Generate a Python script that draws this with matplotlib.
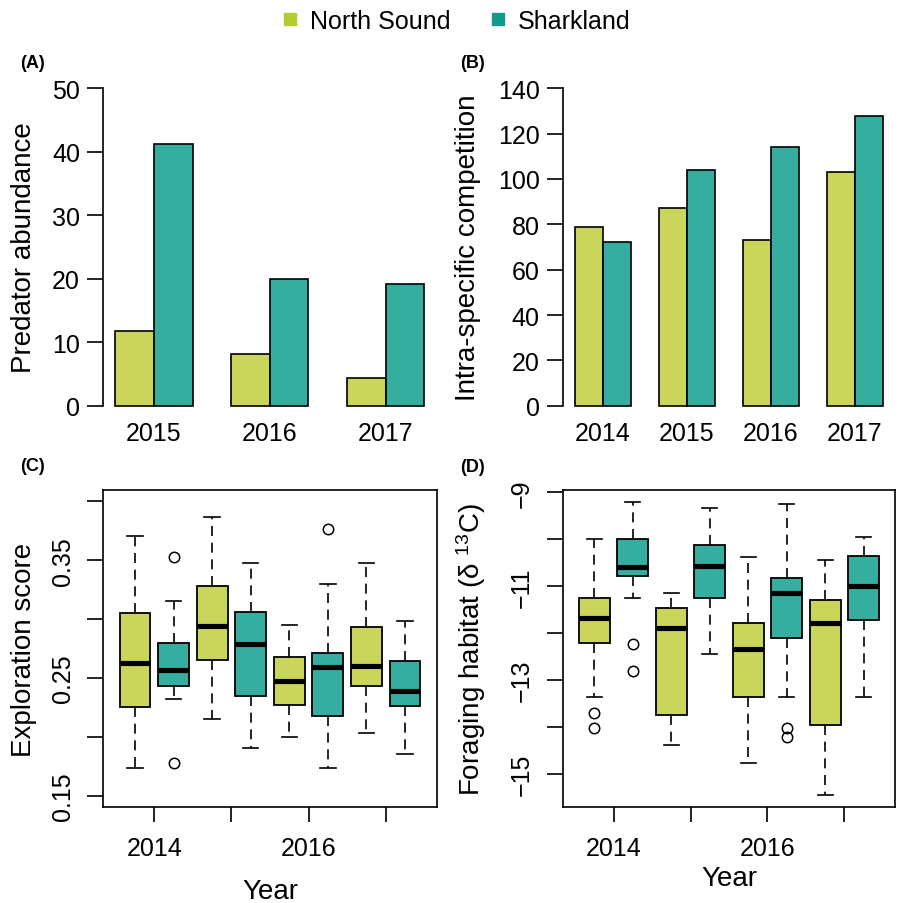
import numpy as np
from matplotlib import pyplot as plt
from matplotlib.lines import Line2D

plt.rcParams['font.family'] = ['Liberation Sans', 'DejaVu Sans']
plt.rcParams['mathtext.fontset'] = 'custom'
plt.rcParams['mathtext.rm'] = 'Liberation Sans'
plt.rcParams['mathtext.it'] = 'Liberation Sans:italic'

sites = ['North Sound', 'Sharkland']
ns_fill = '#C9D55B'
sl_fill = '#35AE9F'
ns_key = '#B5CC30'
sl_key = '#129B8B'

# (A) predator abundance
years_a = ['2015', '2016', '2017']
pred_ns = [11.8, 8.1, 4.3]
pred_sl = [41.2, 20.0, 19.2]

# (B) intra-specific competition
years_b = ['2014', '2015', '2016', '2017']
comp_ns = [79, 87, 73, 103]
comp_sl = [72, 104, 114, 128]

# (C) exploration score, boxes ordered NS14, SL14, NS15, SL15, NS16, SL16, NS17, SL17
# each row: lower whisker, q1, median, q3, upper whisker
expl_box = [
    [0.173, 0.225, 0.263, 0.305, 0.371],
    [0.232, 0.243, 0.257, 0.280, 0.315],
    [0.215, 0.265, 0.294, 0.328, 0.387],
    [0.190, 0.235, 0.279, 0.306, 0.348],
    [0.200, 0.227, 0.247, 0.268, 0.295],
    [0.173, 0.218, 0.259, 0.271, 0.330],
    [0.203, 0.243, 0.260, 0.293, 0.348],
    [0.185, 0.226, 0.239, 0.264, 0.298],
]
expl_out = [[], [0.353, 0.178], [], [], [], [0.377], [], []]

# (D) foraging habitat d13C
forg_box = [
    [-13.35, -12.21, -11.68, -11.24, -9.99],
    [-11.26, -10.79, -10.59, -9.99, -9.20],
    [-14.38, -13.75, -11.89, -11.46, -11.15],
    [-12.44, -11.25, -10.56, -10.13, -9.33],
    [-14.77, -13.35, -12.33, -11.78, -10.37],
    [-13.35, -12.11, -11.15, -10.83, -9.24],
    [-15.45, -13.95, -11.78, -11.30, -10.43],
    [-13.35, -11.71, -11.00, -10.35, -9.96],
]
forg_out = [[-13.70, -14.02], [-12.23, -12.81], [], [], [], [-14.01, -14.22], [], []]

box_years = ['2014', '', '2016', '']
expl_ticks = [0.15, 0.20, 0.25, 0.30, 0.35, 0.40]
expl_labels = ['0.15', '', '0.25', '', '0.35', '']
forg_ticks = [-15, -14, -13, -12, -11, -10, -9]
forg_labels = ['\u221215', '', '\u221213', '', '\u221211', '', '\u22129']

W, H = 898, 904
fig = plt.figure(figsize=(W / 100, H / 100), dpi=100)


def px_axes(x0, y0, x1, y1):
    return fig.add_axes([x0 / W, 1 - y1 / H, (x1 - x0) / W, (y1 - y0) / H])


def bar_panel(ax, years, ns, sl, top, step):
    grp = np.arange(len(years)) * 3 + 1
    ax.bar(grp, ns, width=1, align='edge', color=ns_fill, edgecolor='black', linewidth=1.2)
    ax.bar(grp + 1, sl, width=1, align='edge', color=sl_fill, edgecolor='black', linewidth=1.2)
    n = grp[-1] + 2 - 1
    ax.set_xlim(1 - 0.04 * n, grp[-1] + 2 + 0.04 * n)
    ax.set_ylim(-0.04 * top, top * 1.04)
    ax.set_xticks(grp + 1, years)
    ax.set_yticks(np.arange(0, top + 1, step))
    for s in ['top', 'right', 'bottom']:
        ax.spines[s].set_visible(False)
    ax.spines['left'].set_bounds(0, top)
    ax.spines['left'].set_linewidth(1.2)
    ax.tick_params(axis='x', length=0, pad=2, labelsize=18)
    ax.tick_params(axis='y', length=11.5, width=1.2, pad=5, labelsize=18, direction='out')


def box_panel(ax, box, outl, ticks, labels):
    stats = []
    for b, o in zip(box, outl):
        stats.append(dict(whislo=b[0], q1=b[1], med=b[2], q3=b[3], whishi=b[4], fliers=o))
    pos = np.arange(1, len(stats) + 1)
    res = ax.bxp(stats, positions=pos, widths=0.8, capwidths=0.4, patch_artist=True,
                 boxprops=dict(edgecolor='black', linewidth=1.3),
                 whiskerprops=dict(color='black', linewidth=1.2, linestyle=(0, (6, 4))),
                 capprops=dict(color='black', linewidth=1.2),
                 medianprops=dict(color='black', linewidth=3.7, solid_capstyle='butt'),
                 flierprops=dict(marker='o', markerfacecolor='none', markeredgecolor='black',
                                 markersize=7.5, markeredgewidth=1.1),
                 manage_ticks=False)
    for i, p in enumerate(res['boxes']):
        p.set_facecolor(ns_fill if i % 2 == 0 else sl_fill)
    ax.set_xlim(0.18, 8.82)
    ax.set_xticks(pos[::2] + 0.5, box_years)
    ax.set_yticks(ticks, labels)
    for s in ax.spines.values():
        s.set_linewidth(1.2)
    ax.tick_params(axis='x', length=11, width=1.2, pad=10, labelsize=18, direction='out')
    ax.tick_params(axis='y', length=11.5, width=1.2, pad=9, labelsize=18, direction='out',
                   labelrotation=90)
    for t in ax.get_yticklabels():
        t.set_va('center')


# (A)
axa = px_axes(103, 76.6, 436.5, 419.4)
bar_panel(axa, years_a, pred_ns, pred_sl, 50, 10)
axa.set_ylabel('Predator abundance', fontsize=20, va='center')
axa.yaxis.set_label_coords(-0.237, 0.5)

# (B)
axb = px_axes(562.7, 76.6, 895.3, 419.4)
bar_panel(axb, years_b, comp_ns, comp_sl, 140, 20)
axb.set_ylabel('Intra-specific competition', fontsize=20, va='center')
axb.yaxis.set_label_coords(-0.285, 0.5)

# (C)
axc = px_axes(103.3, 490.7, 436.7, 808.3)
box_panel(axc, expl_box, expl_out, expl_ticks, expl_labels)
axc.set_ylim(0.14, 0.41)
axc.set_ylabel('Exploration score', fontsize=20, va='center')
axc.yaxis.set_label_coords(-0.238, 0.5)
axc.set_xlabel('Year', fontsize=20, va='top')
axc.xaxis.set_label_coords(0.5, -0.222)

# (D)
axd = px_axes(562.7, 491, 895.3, 808)
box_panel(axd, forg_box, forg_out, forg_ticks, forg_labels)
axd.set_ylim(-15.7, -8.95)
axd.set_ylabel('Foraging habitat (\u03b4 $^{13}$C)', fontsize=20, va='center')
axd.yaxis.set_label_coords(-0.276, 0.5)
axd.set_xlabel('Year', fontsize=20, va='top')
axd.xaxis.set_label_coords(0.5, -0.182)

for lab, x, y in [('(A)', 20, 63), ('(B)', 460, 63), ('(C)', 20, 467), ('(D)', 460, 468)]:
    fig.text(x / W, 1 - y / H, lab, fontsize=13, fontweight='bold', va='center', ha='left')

handles = [Line2D([], [], linestyle='none', marker='s', markersize=8.5, color=c)
           for c in (ns_key, sl_key)]
fig.legend(handles, sites, loc='center', bbox_to_anchor=(455 / W, 1 - 22 / H), ncol=2,
           frameon=False, fontsize=18, handlelength=0.8, handletextpad=0.4,
           columnspacing=1.5)

fig.savefig('out.png', dpi=100)
